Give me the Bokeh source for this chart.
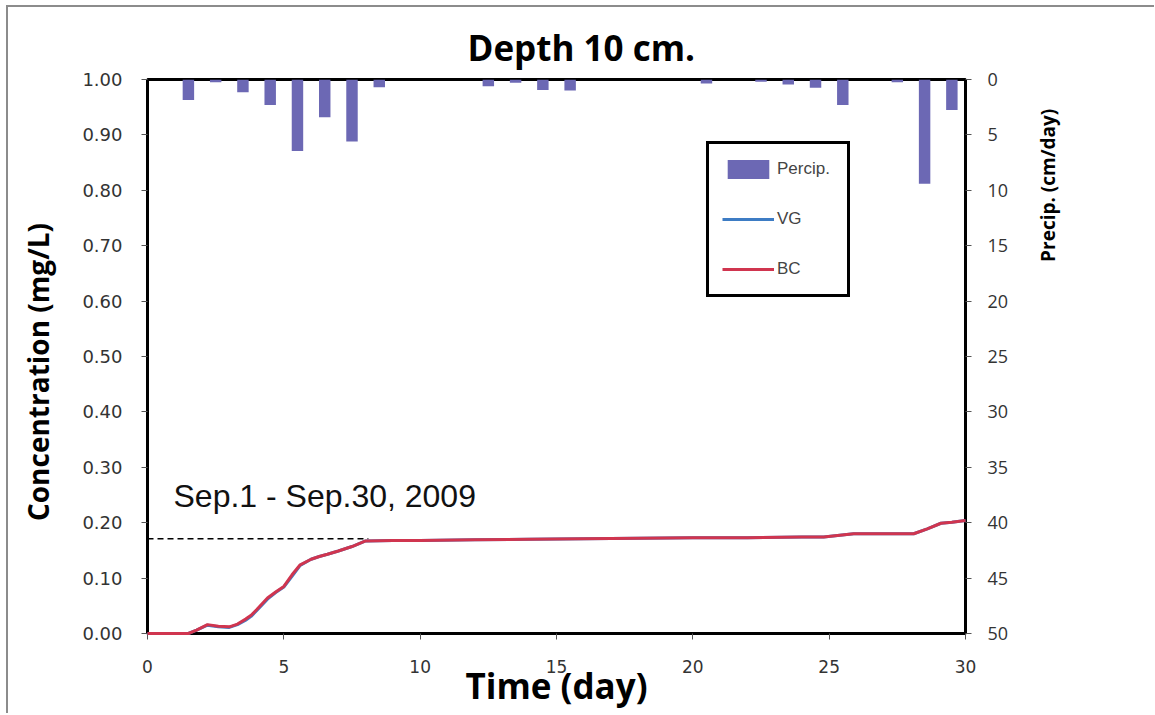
from math import pi
from bokeh.plotting import figure
from bokeh.models import Range1d, LinearAxis, FixedTicker, PrintfTickFormatter, Label, Title
from bokeh.embed import file_html
from bokeh.resources import INLINE

# ---- data ----
days = [0, 1.5, 1.8, 2.2, 2.6, 3.0, 3.3, 3.6, 3.8, 4.0, 4.4, 4.7, 5.0, 5.3, 5.6, 6.0,
        6.3, 6.6, 7.0, 7.5, 8.0, 9, 10, 12, 14, 16, 18, 20, 22, 24, 24.8, 25.9, 27, 28.1,
        28.6, 29.1, 29.5, 30]
conc_bc = [0.0, 0.0, 0.006, 0.016, 0.013, 0.012, 0.017, 0.026, 0.033, 0.043, 0.064, 0.075,
           0.085, 0.106, 0.124, 0.134, 0.139, 0.143, 0.149, 0.157, 0.167, 0.168, 0.168,
           0.169, 0.170, 0.171, 0.172, 0.173, 0.173, 0.174, 0.174, 0.180, 0.180, 0.180,
           0.189, 0.199, 0.201, 0.204]
conc_vg = [0.0, 0.0, 0.006, 0.015, 0.012, 0.011, 0.016, 0.024, 0.031, 0.041, 0.062, 0.074,
           0.084, 0.103, 0.123, 0.134, 0.139, 0.143, 0.149, 0.157, 0.167, 0.168, 0.168,
           0.169, 0.170, 0.171, 0.172, 0.173, 0.173, 0.174, 0.174, 0.180, 0.180, 0.180,
           0.189, 0.199, 0.201, 0.204]
bar_days = [1.5, 2.5, 3.5, 4.5, 5.5, 6.5, 7.5, 8.5, 12.5, 13.5, 14.5, 15.5,
            20.5, 22.5, 23.5, 24.5, 25.5, 27.5, 28.5, 29.5]
precip = [1.85, 0.25, 1.15, 2.3, 6.45, 3.4, 5.6, 0.7, 0.6, 0.3, 0.95, 1.0,
          0.35, 0.2, 0.45, 0.75, 2.3, 0.25, 9.4, 2.75]
x_ticks = [0, 5, 10, 15, 20, 25, 30]
y_ticks = [0.0, 0.1, 0.2, 0.3, 0.4, 0.5, 0.6, 0.7, 0.8, 0.9, 1.0]
precip_ticks = [0, 5, 10, 15, 20, 25, 30, 35, 40, 45, 50]
ref_days = [0, 8.1]
ref_level = [0.171, 0.171]

BAR = "#6C68B4"
BLUE = "#3D7CC4"
RED = "#D0354F"

p = figure(width=1148, height=708, title=None,
           x_range=Range1d(0, 30), y_range=Range1d(0, 1),
           output_backend="svg", toolbar_location=None,
           min_border_left=139, min_border_right=191,
           min_border_top=72, min_border_bottom=82,
           background_fill_color="white", border_fill_color="white",
           outline_line_color="black", outline_line_width=3)
p.styles = {"margin-left": "6px", "margin-top": "5px",
            "border-left": "2px solid #8c8c8c", "border-top": "2px solid #8c8c8c"}
p.grid.visible = False
p.extra_y_ranges = {"precip": Range1d(start=50, end=0)}


def style_axis(ax, font, size, standoff):
    ax.axis_line_color = "black"
    ax.axis_line_width = 3
    ax.major_tick_in = 0
    ax.major_tick_out = 6
    ax.major_tick_line_color = "#555555"
    ax.major_tick_line_width = 1
    ax.minor_tick_line_color = None
    ax.major_label_text_font = font
    ax.major_label_text_font_size = size
    ax.major_label_text_color = "#333333"
    ax.major_label_standoff = standoff


xa = p.xaxis[0]
xa.ticker = FixedTicker(ticks=x_ticks)
style_axis(xa, "DejaVu Sans", "17px", 20)
xa.axis_label = "Time (day)"
xa.axis_label_text_font = "Open Sans"
xa.axis_label_text_font_style = "bold"
xa.axis_label_text_font_size = "35px"
xa.axis_label_text_color = "black"
xa.axis_label_standoff = -14

ya = p.yaxis[0]
ya.ticker = FixedTicker(ticks=y_ticks)
ya.formatter = PrintfTickFormatter(format="%.2f")
style_axis(ya, "DejaVu Sans", "18px", 19)

ra = LinearAxis(y_range_name="precip", ticker=FixedTicker(ticks=precip_ticks))
style_axis(ra, "Open Sans", "18px", 16)
p.add_layout(ra, "right")

# chart title
p.add_layout(Title(text="Depth 10 cm.", align="left", offset=320, vertical_align="bottom",
                   standoff=18, text_font="Open Sans", text_font_style="bold",
                   text_font_size="35px", text_color="black"), "above")

# side-panel axis titles (placed in data coordinates of the frame)
p.add_layout(Label(x=-4.03, y=0.472, text="Concentration (mg/L)", angle=pi / 2,
                   text_align="center", text_baseline="alphabetic", text_font="Open Sans",
                   text_font_style="bold", text_font_size="28px", text_color="black"), "left")
p.add_layout(Label(x=33.04, y=0.809, text="Precip. (cm/day)", angle=pi / 2,
                   text_align="center", text_baseline="alphabetic", text_font="Open Sans",
                   text_font_style="bold", text_font_size="19px", text_color="black"), "right")

# ---- glyphs ----
p.vbar(x=bar_days, width=0.42, top=0, bottom=precip, y_range_name="precip",
       fill_color=BAR, line_color=None, legend_label="Percip.")
p.line(days, conc_vg, line_color=BLUE, line_width=3, legend_label="VG", level="overlay")
p.line(days, conc_bc, line_color=RED, line_width=3, legend_label="BC", level="overlay")
p.line(ref_days, ref_level, line_color="black", line_width=1.5, line_dash="6 4")

lg = p.legend[0]
lg.location = (559, 336)
lg.margin = 0
lg.padding = 13
lg.glyph_width = 52
lg.glyph_height = 24
lg.label_height = 24
lg.label_width = 57
lg.spacing = 26
lg.label_standoff = 3
lg.border_line_color = "black"
lg.border_line_alpha = 1
lg.border_line_width = 3
lg.background_fill_color = "white"
lg.background_fill_alpha = 1
lg.label_text_font = "Liberation Sans"
lg.label_text_font_size = "17px"
lg.label_text_color = "#444444"

p.add_layout(Label(x=0.954, y=0.249, text="Sep.1 - Sep.30, 2009", text_align="left",
                   text_baseline="alphabetic", text_font="Liberation Sans",
                   text_font_size="32px", text_color="#111111"))

open("out.html", "w").write(file_html(p, INLINE))
